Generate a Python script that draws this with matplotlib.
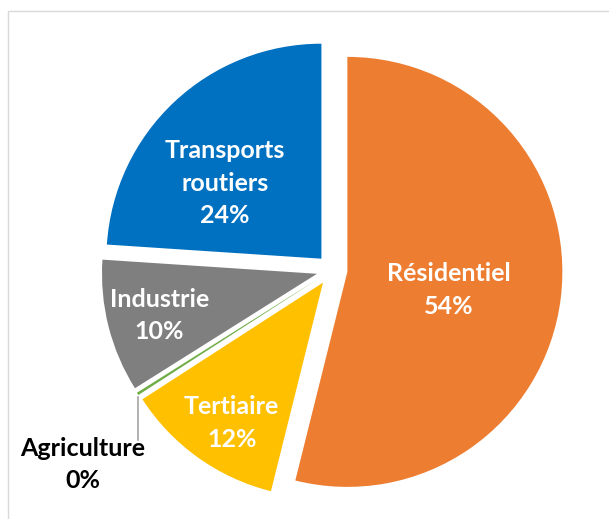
import matplotlib.pyplot as plt
import numpy as np
from matplotlib.patches import Rectangle

plt.rcParams['font.family'] = ['Lato', 'DejaVu Sans']

# --- data
categories = ['Résidentiel', 'Tertiaire', 'Agriculture', 'Industrie', 'Transports\nroutiers']
values = [54, 12, 0.2, 10, 24]
colors = ['#ED7D31', '#FFC000', '#70AD47', '#7F7F7F', '#0070C0']
text_colors = ['white', 'white', 'black', 'white', 'white']
# label placement: distance (fraction of radius) and angle offset from the slice middle
label_r = [0.553, 0.85, 1.47, 0.83, 0.64]
label_dang = [-2.7, 2.3, 5.5, 0.5, 7.9]

W, H = 609, 519
fig = plt.figure(figsize=(W / 100, H / 100), dpi=100)
ax = fig.add_axes([0, 0, 1, 1])

cx, cy = 332, H - 270
R = 215
ex = 0.072  # explode, fraction of radius

# pie's explode is in data units, so scale by radius
wedges, _ = ax.pie(values, colors=colors, startangle=90, counterclock=False,
                   center=(cx, cy), radius=R, explode=[ex * R] * len(values),
                   wedgeprops=dict(linewidth=0))

for w, name, v, tc, lr, da in zip(wedges, categories, values, text_colors, label_r, label_dang):
    mid = np.deg2rad((w.theta1 + w.theta2) / 2 + da)
    x = cx + lr * R * np.cos(mid)
    y = cy + lr * R * np.sin(mid)
    ax.text(x, y, f"{name}\n{v:.0f}%", ha='center', va='center', color=tc,
            fontsize=18, fontweight='bold', linespacing=1.5)

# leader line for the tiny slice
agri = wedges[2]
mid = np.deg2rad((agri.theta1 + agri.theta2) / 2)
tx = cx + R * (1 + ex) * np.cos(mid)
ty = cy + R * (1 + ex) * np.sin(mid)
ax.plot([tx, tx], [ty - 3, H - 440], color='#A6A6A6', linewidth=1.2)

# chart border
fig.patches.append(Rectangle((8 / W, -0.1), 1.2, (H - 11) / H + 0.1,
                             transform=fig.transFigure, fill=False,
                             edgecolor='#D9D9D9', linewidth=1))

ax.set_xlim(0, W)
ax.set_ylim(0, H)
ax.set_aspect('auto')
ax.axis('off')

fig.savefig('out.png', dpi=100)
